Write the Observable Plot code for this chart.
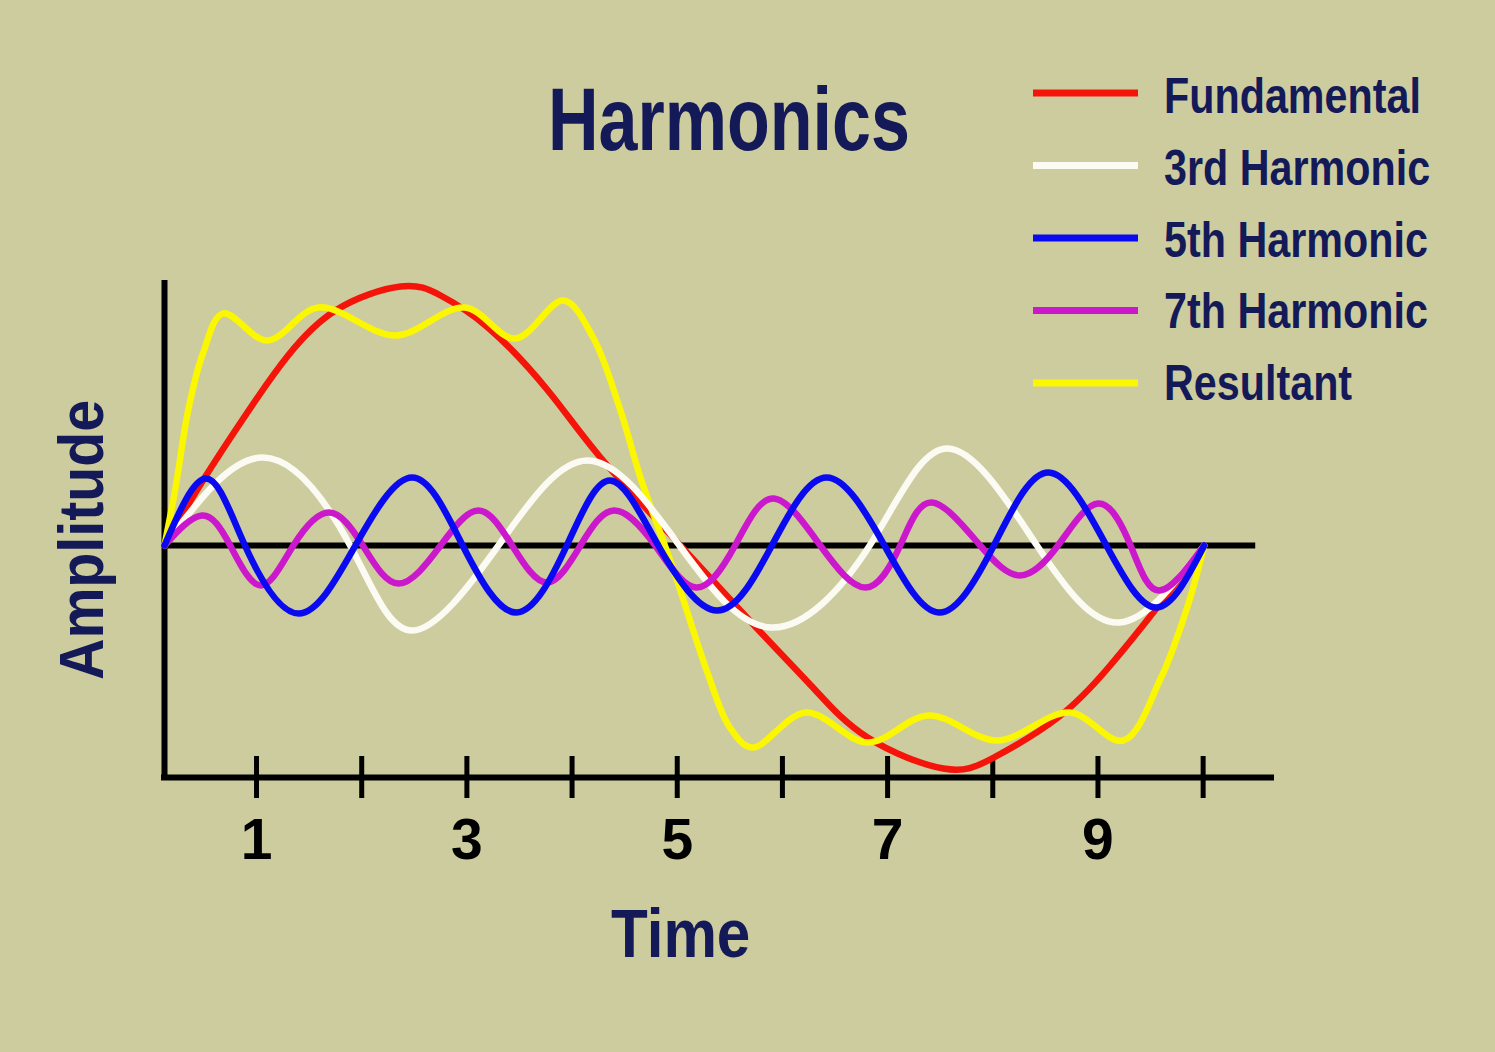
<!DOCTYPE html>
<html><head><meta charset="utf-8">
<script src="https://cdn.jsdelivr.net/npm/d3@7"></script>
<script src="https://cdn.jsdelivr.net/npm/@observablehq/plot@0.6"></script>
<style>
html,body{margin:0;padding:0;background:#cdcc9f;}
#wrap{position:relative;width:1495px;height:1052px;overflow:hidden;background:#cdcc9f;}
#wrap svg{position:absolute;left:0;top:0;}
</style></head><body><div id="wrap"></div>
<script>
// ---- data (time units, amplitude units) ----
const timeTicks = [1,2,3,4,5,6,7,8,9,10];
const timeLabels = [1,3,5,7,9];
const seriesNames = ["Fundamental","3rd Harmonic","5th Harmonic","7th Harmonic","Resultant"];

const fundamental = [[0.125,0],[0.52,0.70],[0.99,1.45],[1.30,1.90],[1.75,2.35],[2.37,2.59],[2.75,2.50],[3.20,2.18],[3.77,1.55],[4.27,0.88],[5.03,0],[5.75,-0.82],[6.29,-1.42],[6.81,-1.92],[7.53,-2.23],[8.01,-2.12],[8.62,-1.72],[9.10,-1.22],[9.54,-0.65],[10.01,0]];
const harmonic3 = [[0.125,0],[1.06,0.88],[1.89,0],[2.48,-0.85],[3.30,0],[4.15,0.85],[5.02,0],[5.90,-0.82],[6.83,0],[7.57,0.97],[8.42,0],[9.20,-0.77],[10.01,0]];
const harmonic5 = [[0.125,0],[0.52,0.67],[0.89,0],[1.40,-0.68],[1.94,0],[2.48,0.68],[2.96,0],[3.47,-0.67],[3.95,0],[4.36,0.65],[4.82,0],[5.38,-0.65],[5.90,0],[6.42,0.68],[6.97,0],[7.49,-0.67],[8.01,0],[8.53,0.73],[9.08,0],[9.56,-0.62],[10.01,0]];
const harmonic7 = [[0.125,0],[0.48,0.30],[0.75,0],[1.04,-0.40],[1.35,0],[1.69,0.33],[2.01,0],[2.35,-0.38],[2.75,0],[3.11,0.35],[3.43,0],[3.76,-0.37],[4.08,0],[4.40,0.35],[4.79,0],[5.18,-0.42],[5.55,0],[5.91,0.47],[6.36,0],[6.79,-0.42],[7.12,0],[7.42,0.43],[7.88,0],[8.26,-0.30],[8.62,0],[9.00,0.42],[9.31,0],[9.58,-0.45],[10.01,0]];
const resultant = [[0.125,0],[0.23,0.58],[0.35,1.35],[0.49,1.92],[0.68,2.32],[1.10,2.05],[1.59,2.38],[2.32,2.10],[2.98,2.38],[3.46,2.07],[3.92,2.45],[4.20,2.08],[4.46,1.35],[4.65,0.68],[4.91,-0.08],[5.02,-0.42],[5.28,-1.25],[5.50,-1.82],[5.71,-2.02],[6.22,-1.67],[6.81,-1.97],[7.39,-1.70],[8.04,-1.95],[8.73,-1.67],[9.24,-1.95],[9.60,-1.32],[9.86,-0.58],[10.01,0]];

const seriesData = [fundamental, harmonic3, harmonic5, harmonic7, resultant];

// ---- styles ----
const COLORS = ["#f5140a","#fbfbf3","#0a0af0","#cc18cc","#fbf700"];
const CURVES = ["natural","natural","natural","natural","catmull-rom"];
const NAVY = "#141a58";
const FONT = "'Liberation Sans', Arial, sans-serif";
const drawOrder = [0,4,1,3,2];

const rows = seriesData.flatMap((pts,i)=>pts.map(([t,v])=>({series:seriesNames[i], t, v})));

const plot = Plot.plot({
  width:1495, height:1052,
  marginTop:280, marginBottom:275, marginLeft:164, marginRight:224,
  x:{domain:[0.125,10.65], axis:null},
  y:{domain:[-2.32,2.65], axis:null},
  style:{background:"transparent", overflow:"visible", fontFamily:FONT},
  marks:[
    Plot.ruleY([0], {x1:0.125, x2:10.5, stroke:"#000", strokeWidth:6}),
    Plot.ruleX([0.125], {stroke:"#000", strokeWidth:6}),
    Plot.ruleY([-2.32], {stroke:"#000", strokeWidth:6, strokeLinecap:"square"}),
    Plot.ruleX(timeTicks, {x:d=>d, stroke:"#000", strokeWidth:5, insetTop:476, insetBottom:-21}),
    ...drawOrder.map(i => Plot.line(rows.filter(d=>d.series===seriesNames[i]), {
      x:"t", y:"v", stroke:COLORS[i], strokeWidth:6.5, curve:CURVES[i],
      strokeLinecap:"round", strokeLinejoin:"round"
    })),
    Plot.text(timeLabels, {x:d=>d, text:d=>String(d), frameAnchor:"bottom", lineAnchor:"bottom",
      dy:81, fontSize:57, fontWeight:"bold", fill:"#000"})
  ]
});
document.getElementById("wrap").appendChild(plot);

// ---- title, legend and axis titles (overlay) ----
const ov = d3.select("#wrap").append("svg")
  .attr("width",1495).attr("height",1052)
  .style("font-family",FONT).style("font-weight","bold").style("pointer-events","none");

ov.append("text").attr("transform","translate(548,150) scale(0.787,1)")
  .attr("font-size",89).attr("fill",NAVY).text("Harmonics");

seriesNames.forEach((name,i)=>{
  const cy = 93 + i*72.5;
  ov.append("rect").attr("x",1033).attr("y",cy-3.5).attr("width",105).attr("height",7).attr("fill",COLORS[i]);
  ov.append("text").attr("transform",`translate(1164,${113 + i*71.8}) scale(0.826,1)`)
    .attr("font-size",50).attr("fill",NAVY).text(name);
});

ov.append("text").attr("transform","translate(611,957) scale(0.885,1)")
  .attr("font-size",68).attr("fill",NAVY).text("Time");
ov.append("text").attr("transform","translate(103,680) rotate(-90) scale(0.91,1)")
  .attr("font-size",63).attr("fill",NAVY).text("Amplitude");
</script></body></html>
